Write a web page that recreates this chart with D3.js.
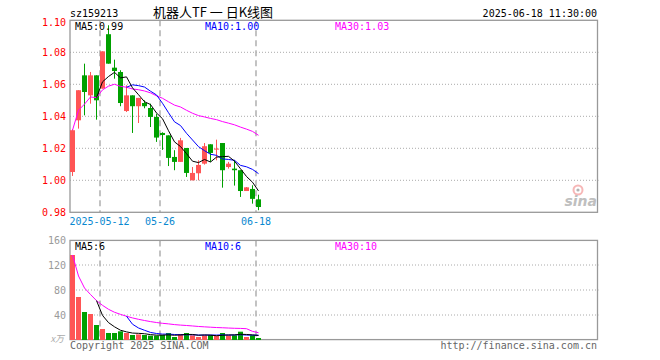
<!DOCTYPE html>
<html><head><meta charset="utf-8">
<script src="https://cdn.jsdelivr.net/npm/d3@7"></script>
<style>body{margin:0;background:#fff} svg{display:block}</style>
</head><body><svg id="c" width="660" height="360"></svg>
<script>
const dates = ["2025-04-30","2025-05-06","2025-05-07","2025-05-08","2025-05-09",
  "2025-05-12","2025-05-13","2025-05-14","2025-05-15","2025-05-16",
  "2025-05-19","2025-05-20","2025-05-21","2025-05-22","2025-05-23",
  "2025-05-26","2025-05-27","2025-05-28","2025-05-29","2025-05-30",
  "2025-06-03","2025-06-04","2025-06-05","2025-06-06",
  "2025-06-09","2025-06-10","2025-06-11","2025-06-12","2025-06-13",
  "2025-06-16","2025-06-17","2025-06-18"];
const openP  = [1.0052,1.0375,1.0656,1.0531,1.0656,1.0573,1.0913,1.0704,1.0677,1.0433,
  1.0531,1.0463,1.0483,1.0452,1.0396,1.0296,1.0281,1.0146,1.0115,1.0202,
  1.0000,1.0044,1.0104,1.0225,1.0192,1.0233,1.0083,1.0073,1.0063,0.9933,0.9946,0.9881];
const closeP = [1.0313,1.0563,1.0552,1.0656,1.0500,1.0806,1.0729,1.0683,1.0483,1.0531,
  1.0463,1.0515,1.0463,1.0396,1.0267,1.0283,1.0140,1.0115,1.0250,1.0046,
  1.0046,1.0096,1.0213,1.0171,1.0198,1.0063,1.0104,1.0063,0.9933,0.9956,0.9884,0.9833];
const highP  = [1.0320,1.0563,1.0729,1.0677,1.0656,1.0806,1.0969,1.0754,1.0688,1.0594,
  1.0531,1.0515,1.0500,1.0479,1.0417,1.0300,1.0281,1.0188,1.0265,1.0202,
  1.0083,1.0125,1.0233,1.0225,1.0254,1.0233,1.0115,1.0127,1.0063,0.9958,0.9969,0.9910];
const lowP   = [1.0027,1.0323,1.0406,1.0479,1.0379,1.0573,1.0729,1.0635,1.0463,1.0427,
  1.0296,1.0358,1.0450,1.0333,1.0240,1.0190,1.0089,1.0063,1.0115,1.0021,
  1.0000,1.0000,1.0098,1.0115,1.0125,0.9954,1.0073,0.9967,0.9896,0.9933,0.9854,0.9813];
const volume = [136,68.8,44.8,41.6,24,17.6,11.2,11.2,13.9,11.2,
  8,9,8,7,7,8,11.2,4.8,9.6,11.2,
  7.5,4.8,7.5,8,6.4,11.2,7.5,7.5,13.3,4.8,7.5,3.2];
const priceTicks = [1.10,1.08,1.06,1.04,1.02,1.00,0.98];
const volTicks = [160,120,80,40];
const dateTicks = ["2025-05-12","2025-05-26","2025-06-18"];
const dateTickLabels = ["2025-05-12","05-26","06-18"];
const priceLegend = ["MA5:0.99","MA10:1.00","MA30:1.03"];
const volLegend = ["MA5:6","MA10:6","MA30:10"];

const RED = "#ff5555", GREEN = "#00a000";
const maColors = ["#000000","#0000ff","#ff00ff"];
const mono = "'DejaVu Sans Mono', monospace";
const svg = d3.select("#c");
const idx = d3.range(dates.length);
const L = 70, R = 597.5;
const x = d3.scaleBand().domain(idx).range([70, 261]).paddingInner(1/6).paddingOuter(0);
const yP = d3.scaleLinear().domain([0.98, 1.10]).range([212.3, 20.3]);
const yV = d3.scaleLinear().domain([0, 160]).range([340, 240]);

function ma(arr, n, cum) {
  return arr.map((v, i) => {
    if (i >= n - 1) return d3.mean(arr.slice(i - n + 1, i + 1));
    return cum ? d3.mean(arr.slice(0, i + 1)) : null;
  });
}

function panel(top, bottom, gridVals, yScale) {
  const g = svg.append("g");
  g.selectAll("line.grid").data(gridVals).join("line")
    .attr("x1", L).attr("x2", R + 1).attr("y1", d => yScale(d)).attr("y2", d => yScale(d))
    .attr("stroke", "#aaa").attr("stroke-width", 1).attr("stroke-dasharray", "1,2");
  g.selectAll("line.v").data(dateTicks).join("line")
    .attr("x1", d => x(dates.indexOf(d))).attr("x2", d => x(dates.indexOf(d)))
    .attr("y1", top).attr("y2", bottom)
    .attr("stroke", "#b4b4b4").attr("stroke-width", 1.6).attr("stroke-dasharray", "6,4");
  g.append("rect").attr("x", L).attr("y", top).attr("width", R - L).attr("height", bottom - top)
    .attr("fill", "none").attr("stroke", "#999").attr("stroke-width", 1.3);
}

panel(20.3, 212.3, [1.08,1.06,1.04,1.02,1.00], yP);
panel(240.4, 339.6, [120,80,40], yV);

// price axis
const ax = svg.append("g").attr("transform", `translate(${L - 4},0)`)
  .call(d3.axisLeft(yP).tickValues(priceTicks).tickSize(0).tickFormat(d3.format(".2f")));
ax.select(".domain").remove();
ax.selectAll("text").attr("fill", "#ff0000").attr("font-family", mono).attr("font-size", 10).attr("x", 0).attr("dy", "0.35em");
ax.selectAll("text").filter(d => d === 1.10).attr("dy", "0.5em");

const av = svg.append("g").attr("transform", `translate(${L - 4},0)`)
  .call(d3.axisLeft(yV).tickValues(volTicks).tickSize(0));
av.select(".domain").remove();
av.selectAll("text").attr("fill", "#9a9a9a").attr("font-family", mono).attr("font-size", 10).attr("x", 0).attr("dy", "0.35em");
svg.append("text").attr("x", 64).attr("y", 342).attr("text-anchor", "end")
  .attr("font-family", "'Noto Sans CJK SC', sans-serif").attr("font-size", 9).attr("fill", "#aaa")
  .attr("font-style", "italic").text("x万");

// date axis
svg.append("g").selectAll("text").data(dateTicks).join("text")
  .attr("x", (d, i) => x(dates.indexOf(d)) + (i === 0 ? -0.5 : 0)).attr("y", 225)
  .attr("text-anchor", "middle").attr("font-family", mono).attr("font-size", 10)
  .attr("fill", "#0a88d0").text((d, i) => dateTickLabels[i]);

// candles
const cg = svg.append("g");
idx.forEach(i => {
  const up = closeP[i] >= openP[i];
  const col = up ? RED : GREEN;
  const cx = x(i) + 2.5;
  cg.append("line").attr("x1", cx).attr("x2", cx).attr("y1", yP(highP[i])).attr("y2", yP(lowP[i]))
    .attr("stroke", col).attr("stroke-width", 1);
  const y1 = yP(Math.max(openP[i], closeP[i])), y2 = yP(Math.min(openP[i], closeP[i]));
  cg.append("rect").attr("x", x(i)).attr("width", x.bandwidth()).attr("y", y1)
    .attr("height", Math.max(1, y2 - y1)).attr("fill", col);
});

// volume bars
svg.append("g").selectAll("rect").data(idx).join("rect")
  .attr("x", i => x(i)).attr("width", x.bandwidth())
  .attr("y", i => yV(volume[i])).attr("height", i => 340 - yV(volume[i]))
  .attr("fill", i => closeP[i] >= openP[i] ? RED : GREEN);

// MA lines
function drawMA(arr, yScale) {
  const sets = [ma(arr, 5, false), ma(arr, 10, false), ma(arr, 30, true)];
  [2, 1, 0].forEach(k => {
    const line = d3.line().defined(i => sets[k][i] != null)
      .x(i => x(i) + 2.5).y(i => yScale(sets[k][i]));
    svg.append("path").attr("d", line(idx)).attr("fill", "none")
      .attr("stroke", maColors[k]).attr("stroke-width", 1);
  });
}
drawMA(closeP, yP);
drawMA(volume, yV);

// legends
const lx = [75, 205, 335];
svg.append("g").selectAll("text").data(priceLegend).join("text")
  .attr("x", (d, i) => lx[i]).attr("y", 30).attr("font-family", mono).attr("font-size", 10)
  .attr("fill", (d, i) => maColors[i]).text(d => d);
svg.append("g").selectAll("text").data(volLegend).join("text")
  .attr("x", (d, i) => lx[i]).attr("y", 250).attr("font-family", mono).attr("font-size", 10)
  .attr("fill", (d, i) => maColors[i]).text(d => d);

// titles
svg.append("text").attr("x", 70).attr("y", 16.5).attr("font-family", mono).attr("font-size", 10)
  .attr("fill", "#000").text("sz159213");
svg.append("text").attr("x", 213).attr("y", 17).attr("text-anchor", "middle")
  .attr("font-family", "'Noto Sans CJK SC', sans-serif").attr("font-size", 13)
  .attr("fill", "#000").text("机器人TF 一 日K线图");
svg.append("text").attr("x", 597).attr("y", 16.5).attr("text-anchor", "end").attr("font-family", mono)
  .attr("font-size", 10).attr("fill", "#000").text("2025-06-18 11:30:00");
svg.append("text").attr("x", 70).attr("y", 349).attr("font-family", mono).attr("font-size", 10)
  .attr("fill", "#666").text("Copyright 2025 SINA.COM");
svg.append("text").attr("x", 597).attr("y", 349).attr("text-anchor", "end").attr("font-family", mono)
  .attr("font-size", 10).attr("fill", "#666").text("http://finance.sina.com.cn");

// sina watermark
const wm = svg.append("g").attr("opacity", 0.75);
wm.append("circle").attr("cx", 578).attr("cy", 190).attr("r", 4.5).attr("fill", "none")
  .attr("stroke", "#f4a0a0").attr("stroke-width", 2);
wm.append("circle").attr("cx", 578).attr("cy", 190).attr("r", 1.6).attr("fill", "#999");
wm.append("text").attr("x", 597).attr("y", 206).attr("text-anchor", "end")
  .attr("font-family", "'DejaVu Sans', sans-serif").attr("font-size", 14).attr("font-weight", "bold")
  .attr("font-style", "italic").attr("fill", "#aaa").text("sina");
</script>
</body></html>
